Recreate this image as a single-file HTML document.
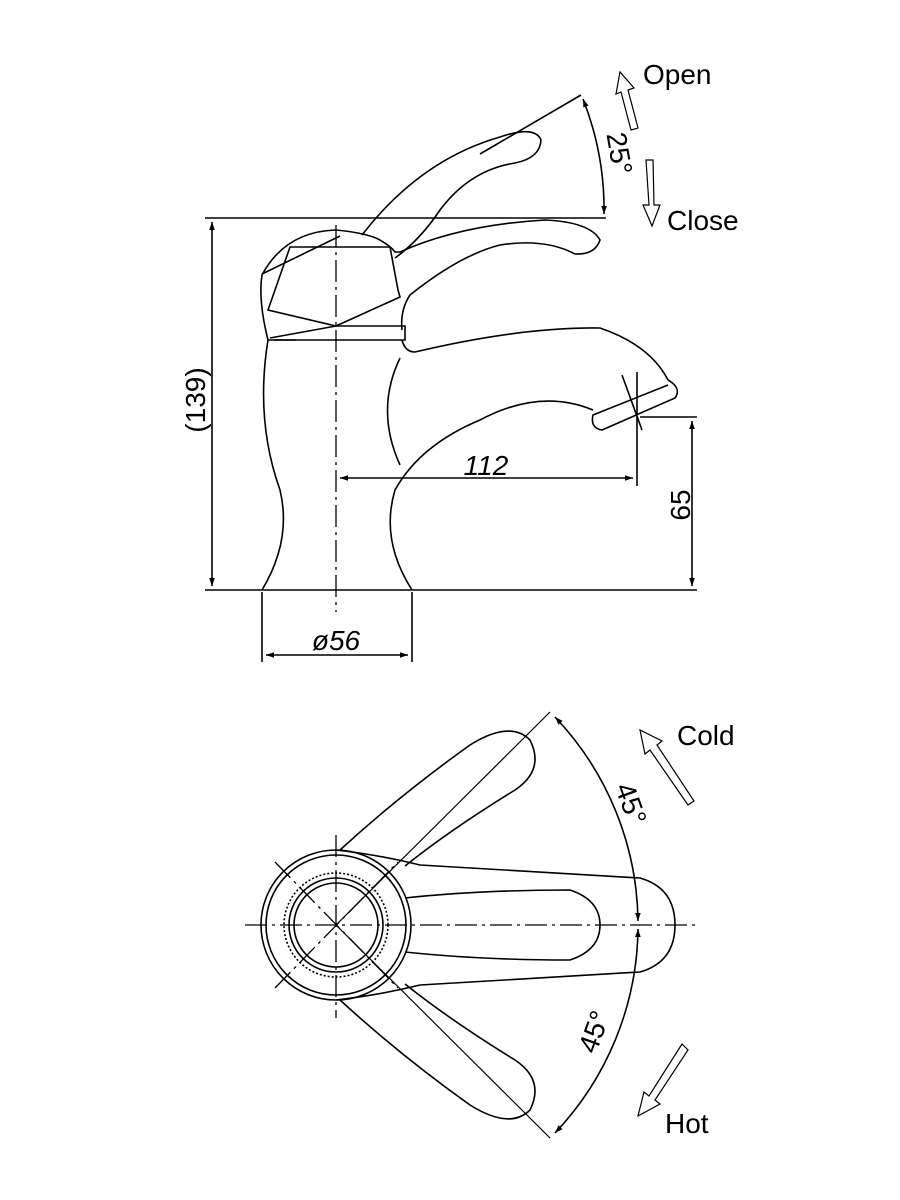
<!DOCTYPE html>
<html><head><style>html,body{margin:0;background:#fff}svg{display:block}</style></head>
<body>
<svg width="900" height="1200" viewBox="0 0 900 1200" xmlns="http://www.w3.org/2000/svg" font-family="Liberation Sans, sans-serif">
<defs>
<marker id="a" viewBox="0 0 10 10" refX="10" refY="5" markerWidth="12" markerHeight="8" orient="auto-start-reverse" markerUnits="userSpaceOnUse"><path d="M0,1.5 L10,5 L0,8.5z" fill="#000"/></marker>
</defs>
<g fill="none" stroke="#000" stroke-width="1.6">
<!-- side view -->
<line x1="205" y1="218" x2="606" y2="218"/>
<line x1="205" y1="590" x2="697" y2="590"/>
<line x1="212" y1="222" x2="212" y2="586" marker-start="url(#a)" marker-end="url(#a)"/>
<line x1="336" y1="225" x2="336" y2="612" stroke-dasharray="22,5,3,5" stroke-width="1.3"/>
<line x1="262" y1="592" x2="262" y2="662"/><line x1="412" y1="592" x2="412" y2="662"/>
<line x1="266" y1="655" x2="408" y2="655" marker-start="url(#a)" marker-end="url(#a)"/>
<line x1="340" y1="478" x2="633" y2="478" marker-start="url(#a)" marker-end="url(#a)"/>
<line x1="637" y1="372" x2="637" y2="486"/>
<line x1="640" y1="417" x2="697" y2="417"/>
<line x1="692" y1="421" x2="692" y2="586" marker-start="url(#a)" marker-end="url(#a)"/>
<line x1="480" y1="154" x2="581" y2="95"/>
<path d="M583,99 Q605,155 604,214" marker-start="url(#a)" marker-end="url(#a)"/>
<!-- raised lever -->
<path d="M362,235 Q420,160 500,137 Q535,125 541,140 Q540,158 515,163 Q470,170 440,210 Q420,240 395,258"/>
<!-- lower lever & head -->
<path d="M262,275 Q285,232 335,230 Q360,232 376,238 Q390,245 395,252 L400,252 Q460,225 545,220 Q590,222 600,240 Q595,255 575,254 Q545,238 500,245 Q460,255 410,295 Q400,310 402,330"/>
<path d="M262,275 Q258,300 268,340 L296,340"/>
<path d="M290,247 L390,247 L398,290 L400,297 L336,326 L268,310 Z"/>
<path d="M262,274 L340,236 M270,338 L336,326 L405,326 L405,340 L274,340"/>
<path d="M402,340 Q405,352 415,352 Q520,327 600,328 Q650,345 668,380"/>
<path d="M668,380 Q682,388 675,398 L602,430 Q590,428 593,415 L668,385"/>
<line x1="622" y1="375" x2="642" y2="430"/>
<path d="M593,410 Q540,388 480,420 Q420,445 395,490 Q380,540 412,590"/>
<path d="M400,358 Q375,410 400,465"/>
<path d="M268,340 Q255,420 280,490 Q292,540 262,590"/>
<!-- top view -->
<line x1="245" y1="925" x2="695" y2="925" stroke-dasharray="22,5,3,5" stroke-width="1.3"/>
<line x1="336" y1="835" x2="336" y2="1018" stroke-dasharray="22,5,3,5" stroke-width="1.3"/>
<line x1="275" y1="862" x2="398" y2="988" stroke-dasharray="22,5,3,5" stroke-width="1.3"/>
<line x1="275" y1="988" x2="398" y2="862" stroke-dasharray="22,5,3,5" stroke-width="1.3"/>
<circle cx="336" cy="925" r="75"/><circle cx="336" cy="925" r="70"/>
<circle cx="336" cy="925" r="47"/><circle cx="336" cy="925" r="42"/><circle cx="336" cy="925" r="52" stroke-dasharray="2,2"/>
<path d="M550,712 L336,925 L550,1138" stroke-width="1.2"/>
<path d="M555,717 A302,302 0 0 1 638,921" marker-start="url(#a)" marker-end="url(#a)"/>
<path d="M638,929 A302,302 0 0 1 555,1133" marker-start="url(#a)" marker-end="url(#a)"/>
<path d="M336,850 Q380,855 420,865 Q540,872 640,878 Q675,888 675,925 Q675,962 640,972 Q540,978 420,985 Q380,995 336,1000"/>
<path d="M405,898 Q480,890 570,890 Q600,900 600,925 Q600,950 570,960 Q480,960 405,952"/>
<path d="M340,850 Q400,795 470,745 Q510,720 530,740 Q545,770 515,790 Q450,830 405,866"/>
<path d="M340,1000 Q400,1055 470,1105 Q510,1130 530,1110 Q545,1080 515,1060 Q450,1020 405,984"/>
<!-- hollow arrows -->
<path d="M631,130 L621,92 L616,94 L620,72 L634,88 L628,90 L638,128 Z" stroke-width="1.2"/>
<path d="M646,160 L653,160 L654,205 L660,205 L652,226 L643,205 L649,205 Z" stroke-width="1.2"/>
<path d="M688,805 L650,750 L645,754 L640,730 L662,741 L657,745 L694,801 Z" stroke-width="1.2"/>
<path d="M682,1044 L688,1050 L655,1100 L660,1104 L638,1116 L644,1092 L649,1096 Z" stroke-width="1.2"/>
</g>
<g font-size="28" fill="#000">
<text x="643" y="84">Open</text>
<text x="667" y="230">Close</text>
<text x="677" y="745">Cold</text>
<text x="665" y="1133">Hot</text>
<text transform="translate(205,400) rotate(-90)" text-anchor="middle">(139)</text>
<text transform="translate(610,155) rotate(80)" text-anchor="middle">25°</text>
<text x="486" y="475" text-anchor="middle" font-style="italic">112</text>
<text transform="translate(690,505) rotate(-90)" text-anchor="middle">65</text>
<text x="336" y="650" text-anchor="middle" font-style="italic">ø56</text>
<text transform="translate(622,807) rotate(70)" text-anchor="middle">45°</text>
<text transform="translate(603,1035) rotate(-70)" text-anchor="middle">45°</text>
</g>
</svg>
</body></html>
